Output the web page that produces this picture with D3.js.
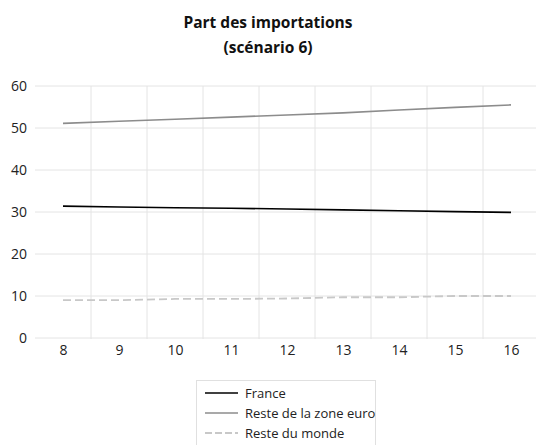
<!DOCTYPE html>
<html><head><meta charset="utf-8">
<script src="https://cdn.jsdelivr.net/npm/d3@7"></script>
<style>body{margin:0;background:#fff}svg{display:block}</style>
</head><body>
<script>
const categories = [8, 9, 10, 11, 12, 13, 14, 15, 16];
const france = [31.4, 31.2, 31.0, 30.9, 30.7, 30.5, 30.3, 30.1, 29.9];
const resteZoneEuro = [51.1, 51.6, 52.1, 52.6, 53.1, 53.6, 54.3, 54.9, 55.5];
const resteMonde = [9.0, 9.0, 9.3, 9.3, 9.4, 9.7, 9.7, 10.0, 10.0];
const yTicks = [0, 10, 20, 30, 40, 50, 60];
const seriesNames = ["France", "Reste de la zone euro", "Reste du monde"];

const W = 536, H = 445;
const font = "'Open Sans', 'Liberation Sans', sans-serif";
const svg = d3.select("body").append("svg").attr("width", W).attr("height", H);

const x = d3.scalePoint().domain(categories).range([63, 511]);
const step = x.step();
const y = d3.scaleLinear().domain([0, 60]).range([338, 86]);

// title
svg.append("text").attr("x", 268).attr("y", 28).attr("text-anchor", "middle")
  .attr("font-family", font).attr("font-weight", "bold").attr("font-size", 15.5).attr("fill", "#111").text("Part des importations");
svg.append("text").attr("x", 268).attr("y", 53).attr("text-anchor", "middle")
  .attr("font-family", font).attr("font-weight", "bold").attr("font-size", 15.5).attr("fill", "#111").text("(scénario 6)");

// horizontal grid
svg.append("g").selectAll("line").data(yTicks).join("line")
  .attr("x1", 35).attr("x2", W).attr("y1", d => y(d)).attr("y2", d => y(d))
  .attr("stroke", "#e4e4e4").attr("stroke-width", 1);
// vertical grid between categories
svg.append("g").selectAll("line").data(categories.slice(0, -1)).join("line")
  .attr("x1", d => x(d) + step / 2).attr("x2", d => x(d) + step / 2)
  .attr("y1", y(60)).attr("y2", y(0) + 1)
  .attr("stroke", "#e4e4e4").attr("stroke-width", 1);

// y axis
const yAxis = svg.append("g").attr("transform", "translate(31,0)")
  .call(d3.axisLeft(y).tickValues(yTicks).tickSize(0).tickPadding(4));
yAxis.select(".domain").remove();
yAxis.selectAll("text").attr("font-family", font).attr("font-size", 14).attr("fill", "#222");

// x axis
const xAxis = svg.append("g").attr("transform", "translate(0,345)")
  .call(d3.axisBottom(x).tickSize(0).tickPadding(0));
xAxis.select(".domain").remove();
xAxis.selectAll("text").attr("font-family", font).attr("font-size", 14).attr("fill", "#222");

const series = [
  {name: seriesNames[0], values: france, color: "#000000", dash: null, width: 1.6},
  {name: seriesNames[1], values: resteZoneEuro, color: "#8c8c8c", dash: null, width: 1.6},
  {name: seriesNames[2], values: resteMonde, color: "#c8c8c8", dash: "8,4", width: 1.8}
];
const line = d3.line().x((d, i) => x(categories[i])).y(d => y(d));
svg.append("g").selectAll("path").data(series).join("path")
  .attr("d", d => line(d.values)).attr("fill", "none")
  .attr("stroke", d => d.color).attr("stroke-width", d => d.width)
  .attr("stroke-dasharray", d => d.dash);

// legend
const lg = svg.append("g");
lg.append("rect").attr("x", 196.5).attr("y", 380.5).attr("width", 179).attr("height", 70)
  .attr("fill", "#fff").attr("stroke", "#e0e0e0");
series.forEach((s, i) => {
  const yy = 393 + i * 20;
  lg.append("line").attr("x1", 205).attr("x2", 238).attr("y1", yy).attr("y2", yy)
    .attr("stroke", s.color).attr("stroke-width", s.width).attr("stroke-dasharray", s.dash ? "7,3" : null);
  lg.append("text").attr("x", 245).attr("y", yy + 4.5).attr("font-family", font)
    .attr("font-size", 13).attr("fill", "#222").text(s.name);
});
</script>
</body></html>
